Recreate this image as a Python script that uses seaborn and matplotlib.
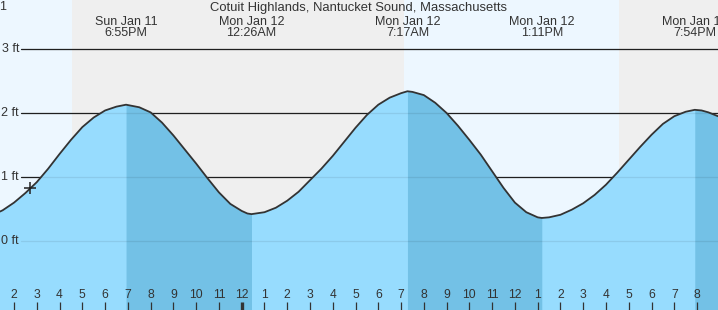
import matplotlib
matplotlib.use("Agg")
import matplotlib.pyplot as plt
from matplotlib.transforms import blended_transform_factory
import seaborn as sns
import numpy as np
import pandas as pd

# ---------------- data ----------------
title = "Cotuit Highlands, Nantucket Sound, Massachusetts"

# hours relative to midnight Mon Jan 12, tide height in feet
hours = [-10.62, -10.5, -10.0, -9.5, -9.0, -8.5, -8.0, -7.5, -7.0, -6.5, -6.0, -5.5, -5.08,
         -4.5, -4.0, -3.5, -3.0, -2.5, -2.0, -1.5, -1.0, -0.5, 0.0, 0.25, 0.43,
         1.0, 1.5, 2.0, 2.5, 3.0, 3.5, 4.0, 4.5, 5.0, 5.5, 6.0, 6.5, 7.0, 7.28,
         7.5, 8.0, 8.5, 9.0, 9.5, 10.0, 10.5, 11.0, 11.5, 12.0, 12.5, 13.0, 13.18,
         13.5, 14.0, 14.5, 15.0, 15.5, 16.0, 16.5, 17.0, 17.5, 18.0, 18.5, 19.0, 19.5, 19.9,
         20.2, 20.5, 20.92]
feet = [0.46, 0.48, 0.60, 0.75, 0.92, 1.13, 1.36, 1.58, 1.78, 1.93, 2.04, 2.10, 2.13,
        2.09, 2.01, 1.85, 1.65, 1.43, 1.21, 0.98, 0.76, 0.58, 0.47, 0.43, 0.42,
        0.45, 0.52, 0.63, 0.77, 0.95, 1.13, 1.33, 1.55, 1.77, 1.97, 2.13, 2.24, 2.31, 2.34,
        2.33, 2.28, 2.16, 2.00, 1.80, 1.58, 1.35, 1.09, 0.83, 0.60, 0.45, 0.37, 0.36,
        0.37, 0.41, 0.49, 0.59, 0.72, 0.88, 1.07, 1.27, 1.47, 1.66, 1.83, 1.95, 2.02, 2.05,
        2.04, 2.01, 1.95]

extreme_hours = [-5.08, 0.43, 7.28, 13.18, 19.90]
extreme_kind = ["high", "low", "high", "low", "high"]
extreme_labels = ["Sun Jan 11\n6:55PM", "Mon Jan 12\n12:26AM", "Mon Jan 12\n7:17AM",
                  "Mon Jan 12\n1:11PM", "Mon Jan 12\n7:54PM"]

day_spans = [(-10.62, -7.45), (7.13, 16.57)]
night_spans = [(-7.45, 7.13), (16.57, 20.92)]

ft_levels = [0, 1, 2, 3]
ft_labels = ["0 ft", "1 ft", "2 ft", "3 ft"]

now_hour = -9.30
now_feet = 0.83

tick_hours = list(range(-10, 21))
tick_labels = ["2", "3", "4", "5", "6", "7", "8", "9", "10", "11",
               "12", "1", "2", "3", "4", "5", "6", "7", "8", "9", "10", "11",
               "12", "1", "2", "3", "4", "5", "6", "7", "8"]

# ---------------- style ----------------
sns.set_theme(style="white")
plt.rcParams['font.family'] = ['Liberation Sans', 'DejaVu Sans']

col_light = "#97dcfe"
col_dark = "#73c1e6"
col_day = "#edf7ff"
col_night = "#efefef"
col_text = "#333333"

x_min, x_max = -10.616, 20.92
y_min, y_max = -1.078, 3.766

df = pd.DataFrame({"hour": hours, "feet": feet})

fig = plt.figure(figsize=(7.18, 3.10), dpi=100)
ax = fig.add_axes([0, 0, 1, 1])
ax.set_xlim(x_min, x_max)
ax.set_ylim(y_min, y_max)

for a, b in day_spans:
    ax.axvspan(a, b, color=col_day, zorder=0, lw=0)
for a, b in night_spans:
    ax.axvspan(a, b, color=col_night, zorder=0, lw=0)

# grid lines behind
for lv in ft_levels:
    ax.axhline(lv, xmin=21 / 718, xmax=1, color="#222222", lw=0.9, zorder=1)

h = df["hour"].to_numpy()
f = df["feet"].to_numpy()
ax.fill_between(h, y_min - 0.1, f, color=col_light, lw=0, zorder=2)
# falling tide segments darker
highs = [t for t, k in zip(extreme_hours, extreme_kind) if k == "high"]
lows = [t for t, k in zip(extreme_hours, extreme_kind) if k == "low"] + [x_max + 1]
for hi, lo in zip(highs, lows):
    m = (h >= hi) & (h <= lo)
    ax.fill_between(h[m], y_min - 0.1, f[m], color=col_dark, lw=0, zorder=2)

# faint grid lines over fill
for lv in ft_levels:
    ax.axhline(lv, xmin=21 / 718, xmax=1, color="#000000", alpha=0.08, lw=0.9, zorder=3)

sns.lineplot(data=df, x="hour", y="feet", ax=ax, color="#333333", lw=1.3, zorder=4,
             legend=False, sort=False)
ax.set_xlim(x_min, x_max)
ax.set_ylim(y_min, y_max)
ax.axis("off")

# current time marker
ax.plot([now_hour], [now_feet], marker="+", ms=9, mew=1.1, color="#222222", zorder=5)

# ft labels
tr = blended_transform_factory(ax.transAxes, ax.transData)
for lv, lab in zip(ft_levels, ft_labels):
    ax.text(19 / 718, lv, lab, transform=tr, ha="right", va="center",
            fontsize=9, color=col_text, zorder=6)

# hour ticks and labels
for t, lab in zip(tick_hours, tick_labels):
    ax.text(t, -0.844, lab, ha="center", va="center", fontsize=8.7, color=col_text, zorder=6)
    lw = 2.4 if t == 0 else 0.9
    ax.vlines(t, y_min, -0.955, color="#333333", lw=lw, zorder=6)

# extreme labels
trx = blended_transform_factory(ax.transData, ax.transAxes)
for t, lab in zip(extreme_hours, extreme_labels):
    ax.text(t, 1 - 27.5 / 310, lab, transform=trx, ha="center", va="center",
            fontsize=9, color=col_text, linespacing=0.95, zorder=6)

ax.text(0.5, 1 - 7.5 / 310, title, transform=ax.transAxes, ha="center", va="center",
        fontsize=9.4, color=col_text, zorder=6)
ax.text(3 / 718, 1 - 7.5 / 310, "1", transform=ax.transAxes, ha="center", va="center",
        fontsize=9, color=col_text, zorder=6)

fig.savefig("out.png", dpi=100)
